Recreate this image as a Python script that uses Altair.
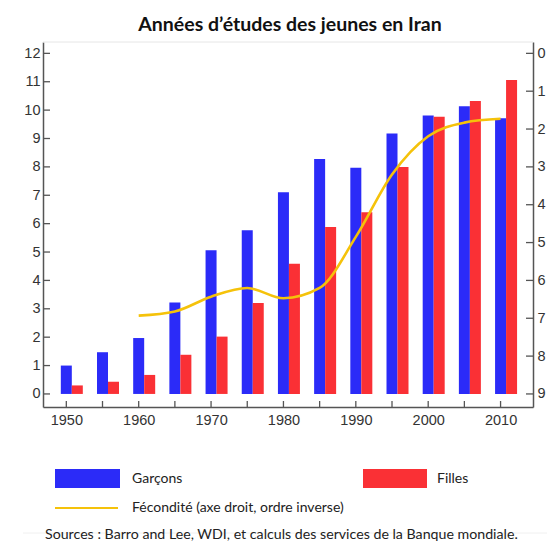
import altair as alt
import pandas as pd

# ---- data ----
years = [1950, 1955, 1960, 1965, 1970, 1975, 1980, 1985, 1990, 1995, 2000, 2005, 2010]
garcons = [1.0, 1.47, 1.97, 3.22, 5.06, 5.77, 7.11, 8.28, 7.97, 9.18, 9.81, 10.14, 9.71]
filles = [0.3, 0.43, 0.67, 1.38, 2.02, 3.2, 4.59, 5.88, 6.4, 8.0, 9.77, 10.32, 11.06]
fert_years = [1960, 1965, 1970, 1975, 1980, 1985, 1990, 1995, 2000, 2005, 2010]
fecondite = [6.93, 6.82, 6.43, 6.2, 6.47, 6.2, 4.85, 3.2, 2.19, 1.83, 1.73]

series = ["Garçons", "Filles"]
line_label = "Fécondité (axe droit, ordre inverse)"
title_text = "Années d’études des jeunes en Iran"
source_text = "Sources : Barro and Lee, WDI, et calculs des services de la Banque mondiale."
left_ticks = list(range(0, 13))
right_ticks = list(range(0, 10))
x_labels = [1950, 1960, 1970, 1980, 1990, 2000, 2010]

# ---- style ----
W, H = 490, 365
BLUE, RED, GOLD = "#2B2BF8", "#FA3035", "#F5C20A"
AX = "#555555"
LBL = "#333333"
AXFONT = "Liberation Sans"
TXFONT = "Lato"

bars_df = pd.DataFrame({"year": years, "garcons": garcons, "filles": filles})
fert_df = pd.DataFrame({"year": fert_years, "fert": fecondite})

xscale = alt.Scale(domain=[1947.47, 2013.79], nice=False, zero=False)
yleft = alt.Scale(domain=[-0.46, 12.4], nice=False, zero=False)
yright = alt.Scale(domain=[-0.3, 9.345], reverse=True, nice=False, zero=False)

axis_common = dict(
    ticks=False, tickSize=0, grid=False, title=None,
    domainColor=AX, domainWidth=1.5,
    labelFont=AXFONT, labelFontSize=14.5, labelColor=LBL,
)
X_AXIS = alt.Axis(values=x_labels, format="d", labelPadding=6, labelFlush=False, **axis_common)
YL_AXIS = alt.Axis(values=left_ticks, labelPadding=3, **axis_common)
YR_AXIS = alt.Axis(orient="right", values=right_ticks, labelPadding=4, **axis_common)

def xenc(field):
    return alt.X(field, scale=xscale, axis=X_AXIS)

def ylenc(field):
    return alt.Y(field, scale=yleft, axis=YL_AXIS)

def yrenc(field):
    return alt.Y(field, scale=yright, axis=YR_AXIS)

blue = alt.Chart(bars_df).mark_bar(size=11, color=BLUE).encode(
    x=xenc("year:Q"), y=ylenc("garcons:Q"), y2=alt.datum(0),
)
red = alt.Chart(bars_df).mark_bar(size=11, color=RED, xOffset=11).encode(
    x=xenc("year:Q"), y=ylenc("filles:Q"), y2=alt.datum(0),
)
left_tk = alt.Chart(pd.DataFrame({"v": left_ticks})).mark_rule(color=AX, strokeWidth=1.3).encode(
    y=ylenc("v:Q"), x=alt.value(0), x2=alt.value(7)
)
x_tk = alt.Chart(pd.DataFrame({"year": years})).mark_rule(color=AX, strokeWidth=1.3).encode(
    x=xenc("year:Q"), y=alt.value(H - 6), y2=alt.value(H)
)
left_layer = alt.layer(blue, red, left_tk, x_tk)

line = alt.Chart(fert_df).mark_line(color=GOLD, strokeWidth=2.6, interpolate="monotone").encode(
    x=xenc("year:Q"), y=yrenc("fert:Q"),
)
right_tk = alt.Chart(pd.DataFrame({"v": right_ticks})).mark_rule(color=AX, strokeWidth=1.3).encode(
    y=yrenc("v:Q"), x=alt.value(W - 7), x2=alt.value(W)
)
right_layer = alt.layer(line, right_tk)

one = lambda txt: pd.DataFrame({"label": [txt]})

top_border = alt.Chart(one("")).mark_rule(color="#e6e6e6", strokeWidth=1).encode(
    x=alt.value(0), x2=alt.value(W), y=alt.value(0)
)
sep = alt.Chart(one("")).mark_rule(color="#f0f0f0", strokeWidth=1).encode(
    x=alt.value(-20), x2=alt.value(W + 14), y=alt.value(491)
)
leg_blue = alt.Chart(one(series[0])).mark_rect(color=BLUE).encode(
    x=alt.value(12), x2=alt.value(77), y=alt.value(427), y2=alt.value(446)
)
leg_red = alt.Chart(one(series[1])).mark_rect(color=RED).encode(
    x=alt.value(320), x2=alt.value(384), y=alt.value(427), y2=alt.value(446)
)
leg_line = alt.Chart(one(line_label)).mark_rule(color=GOLD, strokeWidth=2.2).encode(
    x=alt.value(12), x2=alt.value(75), y=alt.value(466)
)
txt_kw = dict(font=TXFONT, fontSize=14, color="#222222", align="left", baseline="middle")
leg_t1 = alt.Chart(one(series[0])).mark_text(**txt_kw).encode(
    x=alt.value(89), y=alt.value(437), text="label:N")
leg_t2 = alt.Chart(one(series[1])).mark_text(**txt_kw).encode(
    x=alt.value(394), y=alt.value(437), text="label:N")
leg_t3 = alt.Chart(one(line_label)).mark_text(**txt_kw).encode(
    x=alt.value(89), y=alt.value(466), text="label:N")
src = alt.Chart(one(source_text)).mark_text(**dict(txt_kw, fontSize=14.2)).encode(
    x=alt.value(2), y=alt.value(493), text="label:N")
title = alt.Chart(one(title_text)).mark_text(
    font=TXFONT, fontSize=19.5, fontWeight="bold", color="#111111",
    align="center", baseline="alphabetic",
).encode(x=alt.value(W / 2 + 2), y=alt.value(-11), text="label:N")

chart = alt.layer(
    left_layer, right_layer, top_border, sep,
    leg_blue, leg_red, leg_line, leg_t1, leg_t2, leg_t3, src, title,
).resolve_scale(y="independent").properties(
    width=W, height=H,
    padding={"left": 35, "top": 34, "right": 14, "bottom": 135},
    autosize=alt.AutoSizeParams(type="none"),
).configure_view(stroke=None)

chart.save("out.html", embed_options={"renderer": "svg", "actions": False})
